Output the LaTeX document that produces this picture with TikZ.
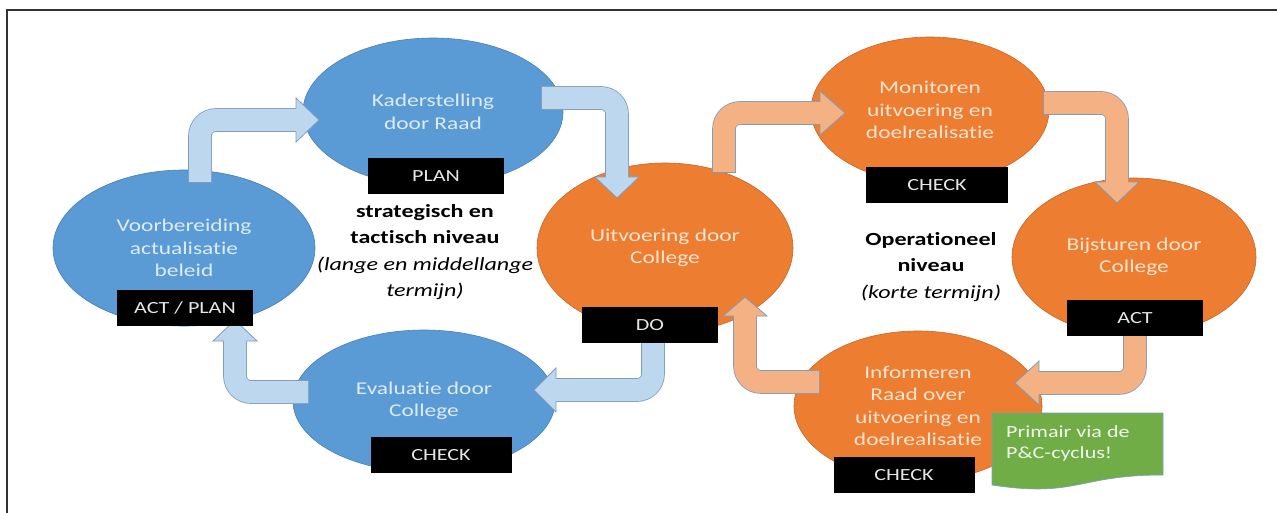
\documentclass[tikz,border=0pt]{standalone}
\usepackage{fontspec}
\setmainfont{Carlito}[FakeStretch=1.3, Ligatures=NoCommon]
\usetikzlibrary{shapes.geometric, calc}

\definecolor{phaseblue}{HTML}{5B9BD5}
\definecolor{phaseblueedge}{HTML}{4A7FB0}
\definecolor{phaseorange}{HTML}{ED7D31}
\definecolor{phaseorangeedge}{HTML}{C9652A}
\definecolor{paleblue}{HTML}{DDEBF7}
\definecolor{paleorange}{HTML}{FBE3D2}
\definecolor{arrowblue}{HTML}{BDD7EE}
\definecolor{arroworange}{HTML}{F4B183}
\definecolor{arrowrim}{HTML}{7F9CBC}
\definecolor{notegreen}{HTML}{70AD47}
\definecolor{taggray}{HTML}{E6E6E6}

\newcommand{\phasefont}{\fontsize{18}{22.5}\selectfont}
\newcommand{\tagfont}{\fontsize{17}{20}\selectfont}
\newcommand{\levelfont}{\fontsize{18.5}{26.5}\selectfont}

% block arrow: colour, start, |- or -|, head base, tip
\newcommand{\bentarrow}[5]{%
  \draw[line width=23.6pt, draw=arrowrim, rounded corners=16pt, shorten <=-0.8pt] (#2) #3 (#4);
  \filldraw[fill=#1, draw=arrowrim, line width=0.8pt]
    ($(#4)!22pt!90:(#5)$) -- (#5) -- ($(#4)!22pt!-90:(#5)$) -- cycle;
  \draw[line width=22pt, draw=#1, rounded corners=16pt] (#2) #3 ($(#4)!1.2pt!(#5)$);
}

\begin{document}
\begin{tikzpicture}[
    x=1pt, y=-1pt,
    bluephase/.style={ellipse, draw=phaseblueedge, fill=phaseblue, line width=0.6pt,
        text=paleblue, inner sep=0pt, align=center, font=\phasefont},
    orangephase/.style={ellipse, draw=phaseorangeedge, fill=phaseorange, line width=0.6pt,
        text=paleorange, inner sep=0pt, align=center, font=\phasefont},
    tag/.style={rectangle, fill=black, text=taggray, inner sep=0pt,
        minimum width=136pt, minimum height=36pt, font=\tagfont},
    level/.style={align=center, font=\levelfont, text=black}
]

\useasboundingbox (0,0) rectangle (1277,513);
\draw[line width=1.2pt, draw=black!80] (7,513) -- (7,10) -- (1277,10);

% phases
\node[bluephase, minimum width=262pt, minimum height=156pt] (voorb) at (184,248)
    {Voorbereiding\\actualisatie\\beleid};
\node[bluephase, minimum width=260pt, minimum height=148pt] (kader) at (433,112)
    {Kaderstelling\\door Raad};
\node[bluephase, minimum width=262pt, minimum height=142pt] (evalu) at (424,401)
    {Evaluatie door\\College};
\node[orangephase, minimum width=256pt, minimum height=170pt] (uitv) at (665,248)
    {Uitvoering door\\College};
\node[orangephase, minimum width=238pt, minimum height=146pt] (monit) at (930,110)
    {Monitoren\\uitvoering en\\doelrealisatie};
\node[orangephase, minimum width=244pt, minimum height=158pt] (bijst) at (1134,257)
    {Bijsturen door\\College};
\node[orangephase, minimum width=248pt, minimum height=150pt] (inform) at (918,406)
    {Informeren\\Raad over\\uitvoering en\\doelrealisatie};

% arrows
\coordinate (a1s) at (200,182); \coordinate (a1h) at (296,120); \coordinate (a1t) at (319,120);
\coordinate (a2s) at (542,98);  \coordinate (a2h) at (617,177); \coordinate (a2t) at (617,198);
\coordinate (a3s) at (653,338); \coordinate (a3h) at (556,390); \coordinate (a3t) at (534,390);
\coordinate (a4s) at (308,392); \coordinate (a4h) at (235,341); \coordinate (a4t) at (235,320);
\coordinate (a5s) at (724,172); \coordinate (a5h) at (820,113); \coordinate (a5t) at (845,113);
\coordinate (a6s) at (1044,103); \coordinate (a6h) at (1117,182); \coordinate (a6t) at (1117,203);
\coordinate (a7s) at (1135,334); \coordinate (a7h) at (1039,383); \coordinate (a7t) at (1015,383);
\coordinate (a8s) at (819,382); \coordinate (a8h) at (745,316); \coordinate (a8t) at (745,297);

\bentarrow{arrowblue}{a1s}{|-}{a1h}{a1t}
\bentarrow{arrowblue}{a2s}{-|}{a2h}{a2t}
\bentarrow{arrowblue}{a3s}{|-}{a3h}{a3t}
\bentarrow{arrowblue}{a4s}{-|}{a4h}{a4t}
\bentarrow{arroworange}{a5s}{|-}{a5h}{a5t}
\bentarrow{arroworange}{a6s}{-|}{a6h}{a6t}
\bentarrow{arroworange}{a7s}{|-}{a7h}{a7t}
\bentarrow{arroworange}{a8s}{-|}{a8h}{a8t}

% tags
\node[tag] (planTag) at (436,176) {PLAN};
\node[tag] (actplanTag) at (185,308) {ACT / PLAN};
\node[tag, minimum width=141pt] (evaluTag) at (441,455) {CHECK};
\node[tag] (doTag) at (650,325) {DO};
\node[tag, minimum width=142pt] (monitTag) at (937,185) {CHECK};
\node[tag] (actTag) at (1135,318) {ACT};
\node[tag, minimum width=141pt] (informTag) at (904,475) {CHECK};

% levels
\node[level] (strat) at (425,252)
    {\textbf{strategisch en}\\\textbf{tactisch niveau}\\\textit{(lange en middellange}\\\textit{termijn)}};
\node[level] (oper) at (931,267)
    {\textbf{Operationeel}\\\textbf{niveau}\\\textit{(korte termijn)}};

% note
\filldraw[fill=notegreen, draw=arrowrim, line width=0.6pt]
    (992,413) -- (1163,413) -- (1163,475) .. controls (1077,475) and (1077,498) .. (992,485) -- cycle;
\node[anchor=west, align=left, text=white!90!notegreen, font=\fontsize{17}{21}\selectfont,
    inner sep=0pt] (noteText) at (1006,443) {Primair via de\\P\&C-cyclus!};

\end{tikzpicture}
\end{document}
